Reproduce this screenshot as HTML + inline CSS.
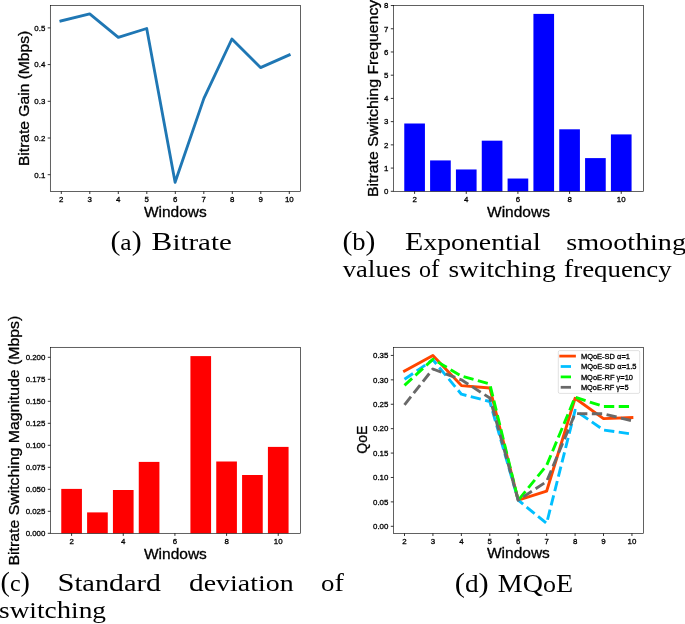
<!DOCTYPE html>
<html><head><meta charset="utf-8"><style>
html,body{margin:0;padding:0;background:#fff;width:685px;height:624px;overflow:hidden}
svg{display:block;will-change:transform}
text{font-family:"Liberation Sans",sans-serif;fill:#000;stroke:#000;stroke-width:0.3px}
text.s{font-family:"Liberation Serif",serif;stroke:none}
</style></head><body>
<svg width="685" height="624" viewBox="0 0 685 624">
<rect width="685" height="624" fill="#fff"/>
<rect x="50.3" y="5.5" width="250.09999999999997" height="185.9" fill="none" stroke="#000" stroke-width="0.62"/>
<line x1="61.30" y1="191.4" x2="61.30" y2="194.0" stroke="#000" stroke-width="0.8"/>
<text x="61.30" y="201.80" font-size="7.9" text-anchor="middle" textLength="4.39" lengthAdjust="spacingAndGlyphs" class="t">2</text>
<line x1="89.80" y1="191.4" x2="89.80" y2="194.0" stroke="#000" stroke-width="0.8"/>
<text x="89.80" y="201.80" font-size="7.9" text-anchor="middle" textLength="4.39" lengthAdjust="spacingAndGlyphs" class="t">3</text>
<line x1="118.30" y1="191.4" x2="118.30" y2="194.0" stroke="#000" stroke-width="0.8"/>
<text x="118.30" y="201.80" font-size="7.9" text-anchor="middle" textLength="4.39" lengthAdjust="spacingAndGlyphs" class="t">4</text>
<line x1="146.80" y1="191.4" x2="146.80" y2="194.0" stroke="#000" stroke-width="0.8"/>
<text x="146.80" y="201.80" font-size="7.9" text-anchor="middle" textLength="4.39" lengthAdjust="spacingAndGlyphs" class="t">5</text>
<line x1="175.30" y1="191.4" x2="175.30" y2="194.0" stroke="#000" stroke-width="0.8"/>
<text x="175.30" y="201.80" font-size="7.9" text-anchor="middle" textLength="4.39" lengthAdjust="spacingAndGlyphs" class="t">6</text>
<line x1="203.80" y1="191.4" x2="203.80" y2="194.0" stroke="#000" stroke-width="0.8"/>
<text x="203.80" y="201.80" font-size="7.9" text-anchor="middle" textLength="4.39" lengthAdjust="spacingAndGlyphs" class="t">7</text>
<line x1="232.30" y1="191.4" x2="232.30" y2="194.0" stroke="#000" stroke-width="0.8"/>
<text x="232.30" y="201.80" font-size="7.9" text-anchor="middle" textLength="4.39" lengthAdjust="spacingAndGlyphs" class="t">8</text>
<line x1="260.80" y1="191.4" x2="260.80" y2="194.0" stroke="#000" stroke-width="0.8"/>
<text x="260.80" y="201.80" font-size="7.9" text-anchor="middle" textLength="4.39" lengthAdjust="spacingAndGlyphs" class="t">9</text>
<line x1="289.30" y1="191.4" x2="289.30" y2="194.0" stroke="#000" stroke-width="0.8"/>
<text x="289.30" y="201.80" font-size="7.9" text-anchor="middle" textLength="8.78" lengthAdjust="spacingAndGlyphs" class="t">10</text>
<line x1="47.699999999999996" y1="174.70" x2="50.3" y2="174.70" stroke="#000" stroke-width="0.8"/>
<text x="45.30" y="177.50" font-size="7.9" text-anchor="end" textLength="10.97" lengthAdjust="spacingAndGlyphs" class="t">0.1</text>
<line x1="47.699999999999996" y1="138.00" x2="50.3" y2="138.00" stroke="#000" stroke-width="0.8"/>
<text x="45.30" y="140.80" font-size="7.9" text-anchor="end" textLength="10.97" lengthAdjust="spacingAndGlyphs" class="t">0.2</text>
<line x1="47.699999999999996" y1="101.30" x2="50.3" y2="101.30" stroke="#000" stroke-width="0.8"/>
<text x="45.30" y="104.10" font-size="7.9" text-anchor="end" textLength="10.97" lengthAdjust="spacingAndGlyphs" class="t">0.3</text>
<line x1="47.699999999999996" y1="64.60" x2="50.3" y2="64.60" stroke="#000" stroke-width="0.8"/>
<text x="45.30" y="67.40" font-size="7.9" text-anchor="end" textLength="10.97" lengthAdjust="spacingAndGlyphs" class="t">0.4</text>
<line x1="47.699999999999996" y1="27.90" x2="50.3" y2="27.90" stroke="#000" stroke-width="0.8"/>
<text x="45.30" y="30.70" font-size="7.9" text-anchor="end" textLength="10.97" lengthAdjust="spacingAndGlyphs" class="t">0.5</text>
<text x="175.35" y="216.70" font-size="14.4" text-anchor="middle" textLength="62.90" lengthAdjust="spacingAndGlyphs">Windows</text>
<text x="0" y="0" font-size="14.4" text-anchor="middle" textLength="135.23" lengthAdjust="spacingAndGlyphs" transform="translate(28.60,98.45) rotate(-90)">Bitrate Gain (Mbps)</text>
<polyline points="60.9,21.0 89.7,13.9 118.3,37.4 146.7,28.5 175.1,182.3 203.9,98.4 231.9,39.0 260.5,67.6 289.2,55.0" fill="none" stroke="#1f77b4" stroke-width="2.85" stroke-linejoin="round" stroke-linecap="square"/>
<rect x="404.27" y="123.50" width="20.66" height="67.80" fill="#0000ff"/>
<rect x="430.10" y="160.42" width="20.66" height="30.88" fill="#0000ff"/>
<rect x="455.93" y="169.47" width="20.66" height="21.83" fill="#0000ff"/>
<rect x="481.76" y="140.68" width="20.66" height="50.62" fill="#0000ff"/>
<rect x="507.59" y="178.53" width="20.66" height="12.77" fill="#0000ff"/>
<rect x="533.42" y="13.90" width="20.66" height="177.40" fill="#0000ff"/>
<rect x="559.25" y="129.30" width="20.66" height="62.00" fill="#0000ff"/>
<rect x="585.08" y="158.10" width="20.66" height="33.20" fill="#0000ff"/>
<rect x="610.91" y="134.41" width="20.66" height="56.89" fill="#0000ff"/>
<rect x="393.4" y="5.5" width="250.10000000000002" height="185.8" fill="none" stroke="#000" stroke-width="0.62"/>
<line x1="414.60" y1="191.3" x2="414.60" y2="193.9" stroke="#000" stroke-width="0.8"/>
<text x="414.60" y="201.70" font-size="7.9" text-anchor="middle" textLength="4.39" lengthAdjust="spacingAndGlyphs" class="t">2</text>
<line x1="466.26" y1="191.3" x2="466.26" y2="193.9" stroke="#000" stroke-width="0.8"/>
<text x="466.26" y="201.70" font-size="7.9" text-anchor="middle" textLength="4.39" lengthAdjust="spacingAndGlyphs" class="t">4</text>
<line x1="517.92" y1="191.3" x2="517.92" y2="193.9" stroke="#000" stroke-width="0.8"/>
<text x="517.92" y="201.70" font-size="7.9" text-anchor="middle" textLength="4.39" lengthAdjust="spacingAndGlyphs" class="t">6</text>
<line x1="569.58" y1="191.3" x2="569.58" y2="193.9" stroke="#000" stroke-width="0.8"/>
<text x="569.58" y="201.70" font-size="7.9" text-anchor="middle" textLength="4.39" lengthAdjust="spacingAndGlyphs" class="t">8</text>
<line x1="621.24" y1="191.3" x2="621.24" y2="193.9" stroke="#000" stroke-width="0.8"/>
<text x="621.24" y="201.70" font-size="7.9" text-anchor="middle" textLength="8.78" lengthAdjust="spacingAndGlyphs" class="t">10</text>
<line x1="390.79999999999995" y1="191.30" x2="393.4" y2="191.30" stroke="#000" stroke-width="0.8"/>
<text x="388.40" y="194.10" font-size="7.9" text-anchor="end" textLength="4.39" lengthAdjust="spacingAndGlyphs" class="t">0</text>
<line x1="390.79999999999995" y1="168.08" x2="393.4" y2="168.08" stroke="#000" stroke-width="0.8"/>
<text x="388.40" y="170.88" font-size="7.9" text-anchor="end" textLength="4.39" lengthAdjust="spacingAndGlyphs" class="t">1</text>
<line x1="390.79999999999995" y1="144.86" x2="393.4" y2="144.86" stroke="#000" stroke-width="0.8"/>
<text x="388.40" y="147.66" font-size="7.9" text-anchor="end" textLength="4.39" lengthAdjust="spacingAndGlyphs" class="t">2</text>
<line x1="390.79999999999995" y1="121.64" x2="393.4" y2="121.64" stroke="#000" stroke-width="0.8"/>
<text x="388.40" y="124.44" font-size="7.9" text-anchor="end" textLength="4.39" lengthAdjust="spacingAndGlyphs" class="t">3</text>
<line x1="390.79999999999995" y1="98.42" x2="393.4" y2="98.42" stroke="#000" stroke-width="0.8"/>
<text x="388.40" y="101.22" font-size="7.9" text-anchor="end" textLength="4.39" lengthAdjust="spacingAndGlyphs" class="t">4</text>
<line x1="390.79999999999995" y1="75.20" x2="393.4" y2="75.20" stroke="#000" stroke-width="0.8"/>
<text x="388.40" y="78.00" font-size="7.9" text-anchor="end" textLength="4.39" lengthAdjust="spacingAndGlyphs" class="t">5</text>
<line x1="390.79999999999995" y1="51.98" x2="393.4" y2="51.98" stroke="#000" stroke-width="0.8"/>
<text x="388.40" y="54.78" font-size="7.9" text-anchor="end" textLength="4.39" lengthAdjust="spacingAndGlyphs" class="t">6</text>
<line x1="390.79999999999995" y1="28.76" x2="393.4" y2="28.76" stroke="#000" stroke-width="0.8"/>
<text x="388.40" y="31.56" font-size="7.9" text-anchor="end" textLength="4.39" lengthAdjust="spacingAndGlyphs" class="t">7</text>
<line x1="390.79999999999995" y1="5.54" x2="393.4" y2="5.54" stroke="#000" stroke-width="0.8"/>
<text x="388.40" y="8.34" font-size="7.9" text-anchor="end" textLength="4.39" lengthAdjust="spacingAndGlyphs" class="t">8</text>
<text x="518.45" y="216.70" font-size="14.4" text-anchor="middle" textLength="62.90" lengthAdjust="spacingAndGlyphs">Windows</text>
<text x="0" y="0" font-size="14.4" text-anchor="middle" textLength="197.28" lengthAdjust="spacingAndGlyphs" transform="translate(378.40,98.40) rotate(-90)">Bitrate Switching Frequency</text>
<rect x="61.27" y="488.90" width="20.66" height="44.40" fill="#ff0000"/>
<rect x="87.10" y="512.40" width="20.66" height="20.90" fill="#ff0000"/>
<rect x="112.93" y="490.00" width="20.66" height="43.30" fill="#ff0000"/>
<rect x="138.76" y="461.90" width="20.66" height="71.40" fill="#ff0000"/>
<rect x="190.42" y="356.10" width="20.66" height="177.20" fill="#ff0000"/>
<rect x="216.25" y="461.50" width="20.66" height="71.80" fill="#ff0000"/>
<rect x="242.08" y="475.00" width="20.66" height="58.30" fill="#ff0000"/>
<rect x="267.91" y="446.90" width="20.66" height="86.40" fill="#ff0000"/>
<rect x="50.4" y="347.3" width="249.99999999999997" height="185.99999999999994" fill="none" stroke="#000" stroke-width="0.62"/>
<line x1="71.60" y1="533.3" x2="71.60" y2="535.9" stroke="#000" stroke-width="0.8"/>
<text x="71.60" y="543.70" font-size="7.9" text-anchor="middle" textLength="4.39" lengthAdjust="spacingAndGlyphs" class="t">2</text>
<line x1="123.26" y1="533.3" x2="123.26" y2="535.9" stroke="#000" stroke-width="0.8"/>
<text x="123.26" y="543.70" font-size="7.9" text-anchor="middle" textLength="4.39" lengthAdjust="spacingAndGlyphs" class="t">4</text>
<line x1="174.92" y1="533.3" x2="174.92" y2="535.9" stroke="#000" stroke-width="0.8"/>
<text x="174.92" y="543.70" font-size="7.9" text-anchor="middle" textLength="4.39" lengthAdjust="spacingAndGlyphs" class="t">6</text>
<line x1="226.58" y1="533.3" x2="226.58" y2="535.9" stroke="#000" stroke-width="0.8"/>
<text x="226.58" y="543.70" font-size="7.9" text-anchor="middle" textLength="4.39" lengthAdjust="spacingAndGlyphs" class="t">8</text>
<line x1="278.24" y1="533.3" x2="278.24" y2="535.9" stroke="#000" stroke-width="0.8"/>
<text x="278.24" y="543.70" font-size="7.9" text-anchor="middle" textLength="8.78" lengthAdjust="spacingAndGlyphs" class="t">10</text>
<line x1="47.8" y1="533.30" x2="50.4" y2="533.30" stroke="#000" stroke-width="0.8"/>
<text x="45.40" y="536.10" font-size="7.9" text-anchor="end" textLength="19.75" lengthAdjust="spacingAndGlyphs" class="t">0.000</text>
<line x1="47.8" y1="511.30" x2="50.4" y2="511.30" stroke="#000" stroke-width="0.8"/>
<text x="45.40" y="514.10" font-size="7.9" text-anchor="end" textLength="19.75" lengthAdjust="spacingAndGlyphs" class="t">0.025</text>
<line x1="47.8" y1="489.30" x2="50.4" y2="489.30" stroke="#000" stroke-width="0.8"/>
<text x="45.40" y="492.10" font-size="7.9" text-anchor="end" textLength="19.75" lengthAdjust="spacingAndGlyphs" class="t">0.050</text>
<line x1="47.8" y1="467.30" x2="50.4" y2="467.30" stroke="#000" stroke-width="0.8"/>
<text x="45.40" y="470.10" font-size="7.9" text-anchor="end" textLength="19.75" lengthAdjust="spacingAndGlyphs" class="t">0.075</text>
<line x1="47.8" y1="445.30" x2="50.4" y2="445.30" stroke="#000" stroke-width="0.8"/>
<text x="45.40" y="448.10" font-size="7.9" text-anchor="end" textLength="19.75" lengthAdjust="spacingAndGlyphs" class="t">0.100</text>
<line x1="47.8" y1="423.30" x2="50.4" y2="423.30" stroke="#000" stroke-width="0.8"/>
<text x="45.40" y="426.10" font-size="7.9" text-anchor="end" textLength="19.75" lengthAdjust="spacingAndGlyphs" class="t">0.125</text>
<line x1="47.8" y1="401.30" x2="50.4" y2="401.30" stroke="#000" stroke-width="0.8"/>
<text x="45.40" y="404.10" font-size="7.9" text-anchor="end" textLength="19.75" lengthAdjust="spacingAndGlyphs" class="t">0.150</text>
<line x1="47.8" y1="379.30" x2="50.4" y2="379.30" stroke="#000" stroke-width="0.8"/>
<text x="45.40" y="382.10" font-size="7.9" text-anchor="end" textLength="19.75" lengthAdjust="spacingAndGlyphs" class="t">0.175</text>
<line x1="47.8" y1="357.30" x2="50.4" y2="357.30" stroke="#000" stroke-width="0.8"/>
<text x="45.40" y="360.10" font-size="7.9" text-anchor="end" textLength="19.75" lengthAdjust="spacingAndGlyphs" class="t">0.200</text>
<text x="175.40" y="558.50" font-size="14.4" text-anchor="middle" textLength="62.90" lengthAdjust="spacingAndGlyphs">Windows</text>
<text x="0" y="0" font-size="14.4" text-anchor="middle" textLength="249.76" lengthAdjust="spacingAndGlyphs" transform="translate(19.20,440.60) rotate(-90)">Bitrate Switching Magnitude (Mbps)</text>
<polyline points="404.5,371.1 432.9,355.6 461.4,385.6 489.8,388.0 518.2,500.2 546.6,491.2 575.1,398.3 603.5,418.6 631.9,417.6" fill="none" stroke="#ff4500" stroke-width="2.9" stroke-linejoin="round" stroke-linecap="square"/>
<polyline points="404.5,379.3 432.9,359.8 461.4,394.2 489.8,401.5 518.2,500.2 546.6,523.4 575.1,410.3 603.5,430.0 631.9,434.0" fill="none" stroke="#00bfff" stroke-width="2.9" stroke-linejoin="round" stroke-linecap="butt" stroke-dasharray="10.33 4.47"/>
<polyline points="404.5,385.4 432.9,359.2 461.4,376.0 489.8,384.0 518.2,500.2 546.6,465.5 575.1,397.2 603.5,406.5 631.9,406.5" fill="none" stroke="#00ff00" stroke-width="2.9" stroke-linejoin="round" stroke-linecap="butt" stroke-dasharray="10.33 4.47"/>
<polyline points="404.5,404.8 432.9,369.0 461.4,379.8 489.8,398.0 518.2,500.2 546.6,481.6 575.1,413.6 603.5,413.8 631.9,420.7" fill="none" stroke="#696969" stroke-width="2.9" stroke-linejoin="round" stroke-linecap="butt" stroke-dasharray="10.33 4.47"/>
<rect x="393.4" y="347.3" width="250.0" height="186.09999999999997" fill="none" stroke="#000" stroke-width="0.62"/>
<line x1="404.50" y1="533.4" x2="404.50" y2="536.0" stroke="#000" stroke-width="0.8"/>
<text x="404.50" y="543.80" font-size="7.9" text-anchor="middle" textLength="4.39" lengthAdjust="spacingAndGlyphs" class="t">2</text>
<line x1="432.93" y1="533.4" x2="432.93" y2="536.0" stroke="#000" stroke-width="0.8"/>
<text x="432.93" y="543.80" font-size="7.9" text-anchor="middle" textLength="4.39" lengthAdjust="spacingAndGlyphs" class="t">3</text>
<line x1="461.36" y1="533.4" x2="461.36" y2="536.0" stroke="#000" stroke-width="0.8"/>
<text x="461.36" y="543.80" font-size="7.9" text-anchor="middle" textLength="4.39" lengthAdjust="spacingAndGlyphs" class="t">4</text>
<line x1="489.79" y1="533.4" x2="489.79" y2="536.0" stroke="#000" stroke-width="0.8"/>
<text x="489.79" y="543.80" font-size="7.9" text-anchor="middle" textLength="4.39" lengthAdjust="spacingAndGlyphs" class="t">5</text>
<line x1="518.22" y1="533.4" x2="518.22" y2="536.0" stroke="#000" stroke-width="0.8"/>
<text x="518.22" y="543.80" font-size="7.9" text-anchor="middle" textLength="4.39" lengthAdjust="spacingAndGlyphs" class="t">6</text>
<line x1="546.65" y1="533.4" x2="546.65" y2="536.0" stroke="#000" stroke-width="0.8"/>
<text x="546.65" y="543.80" font-size="7.9" text-anchor="middle" textLength="4.39" lengthAdjust="spacingAndGlyphs" class="t">7</text>
<line x1="575.08" y1="533.4" x2="575.08" y2="536.0" stroke="#000" stroke-width="0.8"/>
<text x="575.08" y="543.80" font-size="7.9" text-anchor="middle" textLength="4.39" lengthAdjust="spacingAndGlyphs" class="t">8</text>
<line x1="603.51" y1="533.4" x2="603.51" y2="536.0" stroke="#000" stroke-width="0.8"/>
<text x="603.51" y="543.80" font-size="7.9" text-anchor="middle" textLength="4.39" lengthAdjust="spacingAndGlyphs" class="t">9</text>
<line x1="631.94" y1="533.4" x2="631.94" y2="536.0" stroke="#000" stroke-width="0.8"/>
<text x="631.94" y="543.80" font-size="7.9" text-anchor="middle" textLength="8.78" lengthAdjust="spacingAndGlyphs" class="t">10</text>
<line x1="390.79999999999995" y1="526.30" x2="393.4" y2="526.30" stroke="#000" stroke-width="0.8"/>
<text x="388.40" y="529.10" font-size="7.9" text-anchor="end" textLength="15.36" lengthAdjust="spacingAndGlyphs" class="t">0.00</text>
<line x1="390.79999999999995" y1="501.89" x2="393.4" y2="501.89" stroke="#000" stroke-width="0.8"/>
<text x="388.40" y="504.69" font-size="7.9" text-anchor="end" textLength="15.36" lengthAdjust="spacingAndGlyphs" class="t">0.05</text>
<line x1="390.79999999999995" y1="477.48" x2="393.4" y2="477.48" stroke="#000" stroke-width="0.8"/>
<text x="388.40" y="480.28" font-size="7.9" text-anchor="end" textLength="15.36" lengthAdjust="spacingAndGlyphs" class="t">0.10</text>
<line x1="390.79999999999995" y1="453.07" x2="393.4" y2="453.07" stroke="#000" stroke-width="0.8"/>
<text x="388.40" y="455.87" font-size="7.9" text-anchor="end" textLength="15.36" lengthAdjust="spacingAndGlyphs" class="t">0.15</text>
<line x1="390.79999999999995" y1="428.66" x2="393.4" y2="428.66" stroke="#000" stroke-width="0.8"/>
<text x="388.40" y="431.46" font-size="7.9" text-anchor="end" textLength="15.36" lengthAdjust="spacingAndGlyphs" class="t">0.20</text>
<line x1="390.79999999999995" y1="404.25" x2="393.4" y2="404.25" stroke="#000" stroke-width="0.8"/>
<text x="388.40" y="407.05" font-size="7.9" text-anchor="end" textLength="15.36" lengthAdjust="spacingAndGlyphs" class="t">0.25</text>
<line x1="390.79999999999995" y1="379.84" x2="393.4" y2="379.84" stroke="#000" stroke-width="0.8"/>
<text x="388.40" y="382.64" font-size="7.9" text-anchor="end" textLength="15.36" lengthAdjust="spacingAndGlyphs" class="t">0.30</text>
<line x1="390.79999999999995" y1="355.43" x2="393.4" y2="355.43" stroke="#000" stroke-width="0.8"/>
<text x="388.40" y="358.23" font-size="7.9" text-anchor="end" textLength="15.36" lengthAdjust="spacingAndGlyphs" class="t">0.35</text>
<text x="518.40" y="558.20" font-size="14.4" text-anchor="middle" textLength="62.90" lengthAdjust="spacingAndGlyphs">Windows</text>
<text x="0" y="0" font-size="14.4" text-anchor="middle" textLength="28.02" lengthAdjust="spacingAndGlyphs" transform="translate(366.60,439.65) rotate(-90)">QoE</text>
<rect x="558.3" y="350.6" width="81.4" height="42.8" rx="1.5" fill="#fff" fill-opacity="0.8" stroke="#ccc" stroke-width="0.6"/>
<line x1="560.7" y1="356.10" x2="574.5" y2="356.10" stroke="#ff4500" stroke-width="2.76" stroke-linecap="square"/>
<text x="580.90" y="358.80" font-size="7.5" textLength="49.06" lengthAdjust="spacingAndGlyphs" class="t">MQoE-SD α=1</text>
<line x1="560.7" y1="366.50" x2="574.5" y2="366.50" stroke="#00bfff" stroke-width="2.76" stroke-linecap="butt" stroke-dasharray="10.33 4.47"/>
<text x="580.90" y="369.20" font-size="7.5" textLength="55.64" lengthAdjust="spacingAndGlyphs" class="t">MQoE-SD α=1.5</text>
<line x1="560.7" y1="376.90" x2="574.5" y2="376.90" stroke="#00ff00" stroke-width="2.76" stroke-linecap="butt" stroke-dasharray="10.33 4.47"/>
<text x="580.90" y="379.60" font-size="7.5" textLength="52.06" lengthAdjust="spacingAndGlyphs" class="t">MQoE-RF γ=10</text>
<line x1="560.7" y1="387.30" x2="574.5" y2="387.30" stroke="#696969" stroke-width="2.76" stroke-linecap="butt" stroke-dasharray="10.33 4.47"/>
<text x="580.90" y="390.00" font-size="7.5" textLength="47.67" lengthAdjust="spacingAndGlyphs" class="t">MQoE-RF γ=5</text>
<text class="s" x="110.40" y="249.50" font-size="23" textLength="31.20" lengthAdjust="spacingAndGlyphs"><tspan font-size="27">(</tspan>a<tspan font-size="27">)</tspan></text>
<text class="s" x="151.60" y="249.50" font-size="23" textLength="80.20" lengthAdjust="spacingAndGlyphs"><tspan font-size="24.8">B</tspan>itrate</text>
<text class="s" x="342.40" y="249.90" font-size="23" textLength="33.00" lengthAdjust="spacingAndGlyphs"><tspan font-size="27">(</tspan><tspan font-size="24.2">b</tspan><tspan font-size="27">)</tspan></text>
<text class="s" x="405.00" y="249.90" font-size="23" textLength="136.00" lengthAdjust="spacingAndGlyphs"><tspan font-size="24.8">E</tspan>xponentia<tspan font-size="24.2">l</tspan></text>
<text class="s" x="566.20" y="249.90" font-size="23" textLength="119.80" lengthAdjust="spacingAndGlyphs">smoot<tspan font-size="24.2">h</tspan>ing</text>
<text class="s" x="342.80" y="277.00" font-size="23" textLength="68.20" lengthAdjust="spacingAndGlyphs">va<tspan font-size="24.2">l</tspan>ues</text>
<text class="s" x="419.00" y="277.00" font-size="23" textLength="20.40" lengthAdjust="spacingAndGlyphs">o<tspan font-size="24.2">f</tspan></text>
<text class="s" x="448.40" y="277.00" font-size="23" textLength="107.40" lengthAdjust="spacingAndGlyphs">switc<tspan font-size="24.2">h</tspan>ing</text>
<text class="s" x="563.80" y="277.00" font-size="23" textLength="107.80" lengthAdjust="spacingAndGlyphs"><tspan font-size="24.2">f</tspan>requency</text>
<text class="s" x="0.60" y="591.00" font-size="23" textLength="29.40" lengthAdjust="spacingAndGlyphs"><tspan font-size="27">(</tspan>c<tspan font-size="27">)</tspan></text>
<text class="s" x="57.40" y="591.00" font-size="23" textLength="103.60" lengthAdjust="spacingAndGlyphs"><tspan font-size="24.8">S</tspan>tan<tspan font-size="24.2">d</tspan>ar<tspan font-size="24.2">d</tspan></text>
<text class="s" x="189.00" y="591.00" font-size="23" textLength="104.60" lengthAdjust="spacingAndGlyphs"><tspan font-size="24.2">d</tspan>eviation</text>
<text class="s" x="321.00" y="591.00" font-size="23" textLength="22.80" lengthAdjust="spacingAndGlyphs">o<tspan font-size="24.2">f</tspan></text>
<text class="s" x="-1.00" y="618.00" font-size="23" textLength="107.00" lengthAdjust="spacingAndGlyphs">switc<tspan font-size="24.2">h</tspan>ing</text>
<text class="s" x="454.80" y="591.50" font-size="23" textLength="34.00" lengthAdjust="spacingAndGlyphs"><tspan font-size="27">(</tspan><tspan font-size="24.2">d</tspan><tspan font-size="27">)</tspan></text>
<text class="s" x="497.80" y="591.50" font-size="23" textLength="75.20" lengthAdjust="spacingAndGlyphs"><tspan font-size="24.8">M</tspan><tspan font-size="24.8">Q</tspan>o<tspan font-size="24.8">E</tspan></text>
</svg>
</body></html>
